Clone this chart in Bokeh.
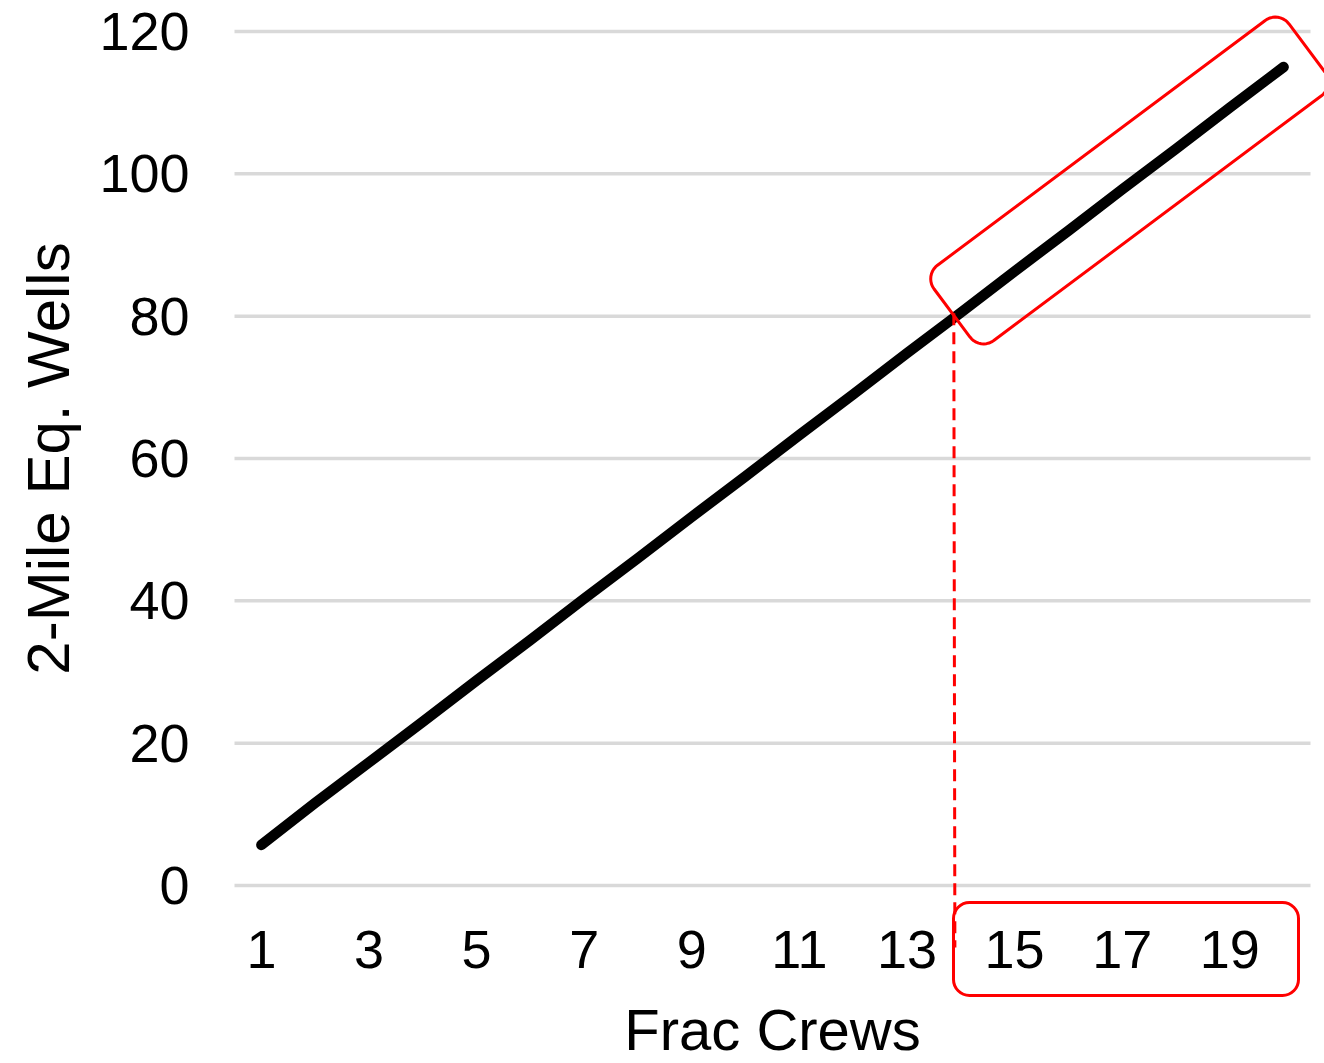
import math
from bokeh.plotting import figure
from bokeh.models import (FixedTicker, Range1d, PolyAnnotation, BoxAnnotation, Arrow, LinearAxis)
from bokeh.embed import file_html
from bokeh.resources import INLINE

# ---- data ----
frac_crews = [1, 2, 3, 4, 5, 6, 7, 8, 9, 10, 11, 12, 13, 14, 15, 16, 17, 18, 19, 20]
wells = [5.7, 11.6, 17.3, 23.0, 28.8, 34.5, 40.3, 46.0, 51.8, 57.5,
         63.3, 69.0, 74.8, 80.5, 86.3, 92.0, 97.8, 103.5, 109.3, 115.0]
x_ticks = [1, 3, 5, 7, 9, 11, 13, 15, 17, 19]
y_ticks = [0, 20, 40, 60, 80, 100, 120]
x_title = "Frac Crews"
y_title = "2-Mile Eq. Wells"
marker_x = 13.87       # dashed marker position (crews)
marker_top = 80.4      # value at the marker

FONT = "Liberation Sans"
W, H = 1324, 1063
AX_LEFT_PX = 234       # pixel column of the left end of the value axis band
PX_X = 53.8            # pixels per crew
PX_Y = 7.117           # pixels per well
Y_ZERO_PX = 885        # pixel row of value 0

g_lo = min(frac_crews) - 0.5
g_hi = max(frac_crews) + 0.5
X0 = g_lo - AX_LEFT_PX / PX_X
X1 = X0 + W / PX_X
Y1 = Y_ZERO_PX / PX_Y
Y0 = -(H - Y_ZERO_PX) / PX_Y

p = figure(width=W, height=H, output_backend="svg", toolbar_location=None,
           x_range=Range1d(X0, X1), y_range=Range1d(Y0, Y1),
           x_axis_location=None, y_axis_location=None,
           min_border_left=0, min_border_right=0, min_border_top=0,
           min_border_bottom=0)
p.outline_line_color = None
p.background_fill_color = "white"
p.border_fill_color = "white"
p.xgrid.visible = False
p.ygrid.visible = False

# horizontal gridlines spanning the category band
p.segment(x0=[g_lo] * len(y_ticks), x1=[g_hi] * len(y_ticks), y0=y_ticks, y1=y_ticks,
          line_color="#d9d9d9", line_width=3.5)

xaxis = LinearAxis(fixed_location=0, bounds=(g_lo, g_hi))
yaxis = LinearAxis(fixed_location=g_lo, bounds=(min(y_ticks), max(y_ticks)))
p.add_layout(xaxis, "below")
p.add_layout(yaxis, "left")

for ax in (xaxis, yaxis):
    ax.axis_line_color = None
    ax.major_tick_line_color = None
    ax.minor_tick_line_color = None
    ax.major_tick_in = 0
    ax.major_tick_out = 0
    ax.major_label_text_font = FONT
    ax.major_label_text_font_size = "54px"
    ax.major_label_text_color = "black"
    ax.axis_label_text_font = FONT
    ax.axis_label_text_font_style = "normal"
    ax.axis_label_text_color = "black"

xaxis.axis_label_text_font_size = "58px"
yaxis.axis_label_text_font_size = "60px"
xaxis.ticker = FixedTicker(ticks=x_ticks)
yaxis.ticker = FixedTicker(ticks=y_ticks)
xaxis.axis_label = x_title
yaxis.axis_label = y_title
xaxis.major_label_standoff = 45
yaxis.major_label_standoff = 45
xaxis.axis_label_standoff = 26
yaxis.axis_label_standoff = 14

p.line(frac_crews, wells, line_color="black", line_width=10.5, line_cap="round",
       line_join="round")

# ---- annotations (geometry in pixel space converted to data space) ----
def dx(px):
    return X0 + px / PX_X
def dy(py):
    return (Y_ZERO_PX - py) / PX_Y

def rounded_rect(cx, cy, length, width, angle, r, n=10):
    ux, uy = math.cos(angle), math.sin(angle)
    nx, ny = -uy, ux
    hl, hw = length / 2 - r, width / 2 - r
    pts = []
    corners = [(hl, hw, 0), (-hl, hw, 1), (-hl, -hw, 2), (hl, -hw, 3)]
    for a, b, k in corners:
        for i in range(n + 1):
            t = (k * 90 + i * 90 / n) * math.pi / 180
            la = a + r * math.cos(t)
            lb = b + r * math.sin(t)
            pts.append((cx + la * ux + lb * nx, cy + la * uy + lb * ny))
    return [dx(q[0]) for q in pts], [dy(q[1]) for q in pts]

ang = math.atan2(-0.599, 0.802)
rxs, rys = rounded_rect(1129, 180, 443, 94, ang, 17)
p.add_layout(PolyAnnotation(xs=rxs, ys=rys, fill_alpha=0, line_color="red",
                            line_alpha=1, line_width=3))

p.add_layout(BoxAnnotation(left=dx(953), right=dx(1298), top=dy(902), bottom=dy(995),
                           fill_alpha=0, line_color="red", line_alpha=1, line_width=3,
                           border_radius=16))

p.add_layout(Arrow(end=None, x_start=marker_x, y_start=marker_top,
                   x_end=marker_x + 0.02, y_end=dy(947), line_color="red",
                   line_width=3, line_dash="12 7"))

open("out.html", "w").write(file_html(p, INLINE))
